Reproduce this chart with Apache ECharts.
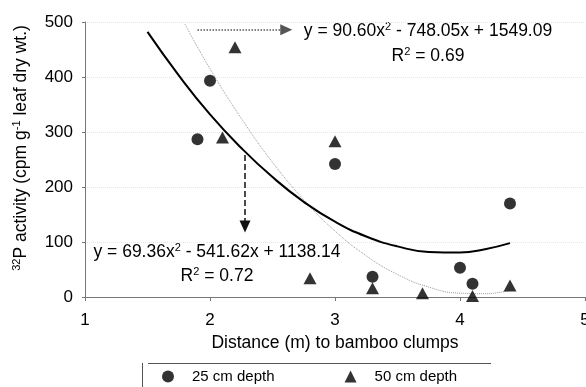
<!DOCTYPE html>
<html>
<head>
<meta charset="utf-8">
<script src="https://cdn.jsdelivr.net/npm/echarts@6/dist/echarts.min.js"></script>
<style>
html,body{margin:0;padding:0;background:#fff;overflow:hidden;}
#chart{width:586px;height:387px;}
</style>
</head>
<body>
<div id="chart"></div>
<script>
// Data
var depth25X = [1.9, 2.0, 3.0, 3.3, 4.0, 4.1, 4.4];
var depth25Y = [287, 393, 242, 37, 53, 24, 170];
var depth50X = [2.1, 2.2, 3.0, 2.8, 3.3, 3.7, 4.1, 4.4];
var depth50Y = [290, 454, 283, 34, 16, 7, 2, 21];
// Trendline points
var trend25X = [1.5, 1.75, 2.0, 2.25, 2.5, 2.75, 3.0, 3.25, 3.5, 3.75, 4.0, 4.2, 4.4];
var trend25Y = [482, 403, 332, 271, 218, 173, 137, 110, 92, 82, 81, 87, 98];
var trend50X = [1.8, 2.0, 2.25, 2.5, 2.75, 3.0, 3.25, 3.5, 3.75, 4.0, 4.2, 4.4];
var trend50Y = [496, 415, 325, 245, 177, 120, 75, 41, 18, 7, 6, 12];
var xTicks = [1, 2, 3, 4, 5];
var yTicks = [0, 100, 200, 300, 400, 500];
// Annotation arrows (data coordinates)
var arrowTop = [[1.9, 486], [2.61, 486]];
var arrowDown = [[2.28, 258], [2.28, 128]];

function zip(xs, ys) { return xs.map(function (x, i) { return [x, ys[i]]; }); }

var FONT = 'Liberation Sans, Arial, sans-serif';
var chart = echarts.init(document.getElementById('chart'), null, {renderer: 'canvas'});
var supRich = {
  n: {fontSize: 17.5, fontFamily: FONT, color: '#000'},
  s: {fontSize: 11, fontFamily: FONT, color: '#000', verticalAlign: 'top', padding: [0, 0, 8, 0]}
};

chart.setOption({
  animation: false,
  backgroundColor: '#fff',
  grid: {left: 85, right: 1, top: 22, bottom: 90, containLabel: false, outerBoundsMode: 'none'},
  xAxis: {
    type: 'value', min: xTicks[0], max: xTicks[xTicks.length - 1], interval: 1,
    name: 'Distance (m) to bamboo clumps', nameLocation: 'middle', nameGap: 36,
    nameTextStyle: {fontSize: 17.5, fontFamily: FONT, color: '#000'},
    axisLine: {show: true, onZero: false, lineStyle: {color: '#777', width: 1}},
    axisTick: {show: true, length: 4, lineStyle: {color: '#777'}},
    axisLabel: {fontSize: 17, fontFamily: FONT, color: '#000', margin: 15, hideOverlap: false},
    splitLine: {show: false}
  },
  yAxis: {
    type: 'value', min: yTicks[0], max: yTicks[yTicks.length - 1], interval: 100,
    axisLine: {show: true, lineStyle: {color: '#777', width: 1}},
    axisTick: {show: true, length: 3, lineStyle: {color: '#777'}},
    axisLabel: {fontSize: 17, fontFamily: FONT, color: '#000', margin: 12},
    splitLine: {show: true, lineStyle: {color: '#e6e6e6', type: 'dotted', width: 1}}
  },
  legend: {
    data: ['25 cm depth', '50 cm depth'],
    left: 162, top: 369, padding: 0, itemWidth: 12, itemHeight: 12, itemGap: 70,
    textStyle: {fontSize: 15, fontFamily: FONT, color: '#000', padding: [0, 0, 0, 13]}
  },
  series: [
    {
      name: 'trend50', type: 'line', data: zip(trend50X, trend50Y), smooth: true,
      showSymbol: false, symbol: 'none', silent: true,
      lineStyle: {color: '#9a9a9a', width: 1, type: 'dotted'}, z: 2
    },
    {
      name: 'trend25', type: 'line', data: zip(trend25X, trend25Y), smooth: true,
      showSymbol: false, symbol: 'none', silent: true,
      lineStyle: {color: '#000', width: 2}, z: 3,
      markLine: {
        silent: true, symbol: ['none', 'triangle'], symbolSize: [11, 12],
        label: {show: false},
        data: [
          [{coord: arrowTop[0], lineStyle: {color: '#555', type: 'dotted', width: 1.5}}, {coord: arrowTop[1]}],
          [{coord: arrowDown[0], lineStyle: {color: '#111', type: 'dashed', width: 1.5}}, {coord: arrowDown[1]}]
        ]
      }
    },
    {
      name: '25 cm depth', type: 'scatter', data: zip(depth25X, depth25Y),
      symbol: 'circle', symbolSize: 12, itemStyle: {color: '#000'}, z: 5
    },
    {
      name: '50 cm depth', type: 'scatter', data: zip(depth50X, depth50Y),
      symbol: 'triangle', symbolSize: [13, 12], itemStyle: {color: '#000'}, z: 5
    }
  ],
  graphic: [
    {type: 'text', x: 21, y: 148, rotation: Math.PI / 2,
     style: {text: '{s|32}{n|P activity (cpm g}{s|-1}{n| leaf dry wt.)}', rich: supRich,
             align: 'center', verticalAlign: 'middle'}},
    {type: 'text', x: 428, y: 31,
     style: {text: '{n|y = 90.60x}{s|2}{n| - 748.05x + 1549.09}', rich: supRich, align: 'center', verticalAlign: 'middle'}},
    {type: 'text', x: 428, y: 56,
     style: {text: '{n|R}{s|2}{n| = 0.69}', rich: supRich, align: 'center', verticalAlign: 'middle'}},
    {type: 'text', x: 217, y: 252,
     style: {text: '{n|y = 69.36x}{s|2}{n| - 541.62x + 1138.14}', rich: supRich, align: 'center', verticalAlign: 'middle'}},
    {type: 'text', x: 217, y: 276,
     style: {text: '{n|R}{s|2}{n| = 0.72}', rich: supRich, align: 'center', verticalAlign: 'middle'}},
    {type: 'line', shape: {x1: 148, y1: 363.5, x2: 491, y2: 363.5}, style: {stroke: '#555', lineWidth: 1}},
    {type: 'line', shape: {x1: 142.5, y1: 363, x2: 142.5, y2: 387}, style: {stroke: '#555', lineWidth: 1}}
  ]
});
</script>
</body>
</html>
